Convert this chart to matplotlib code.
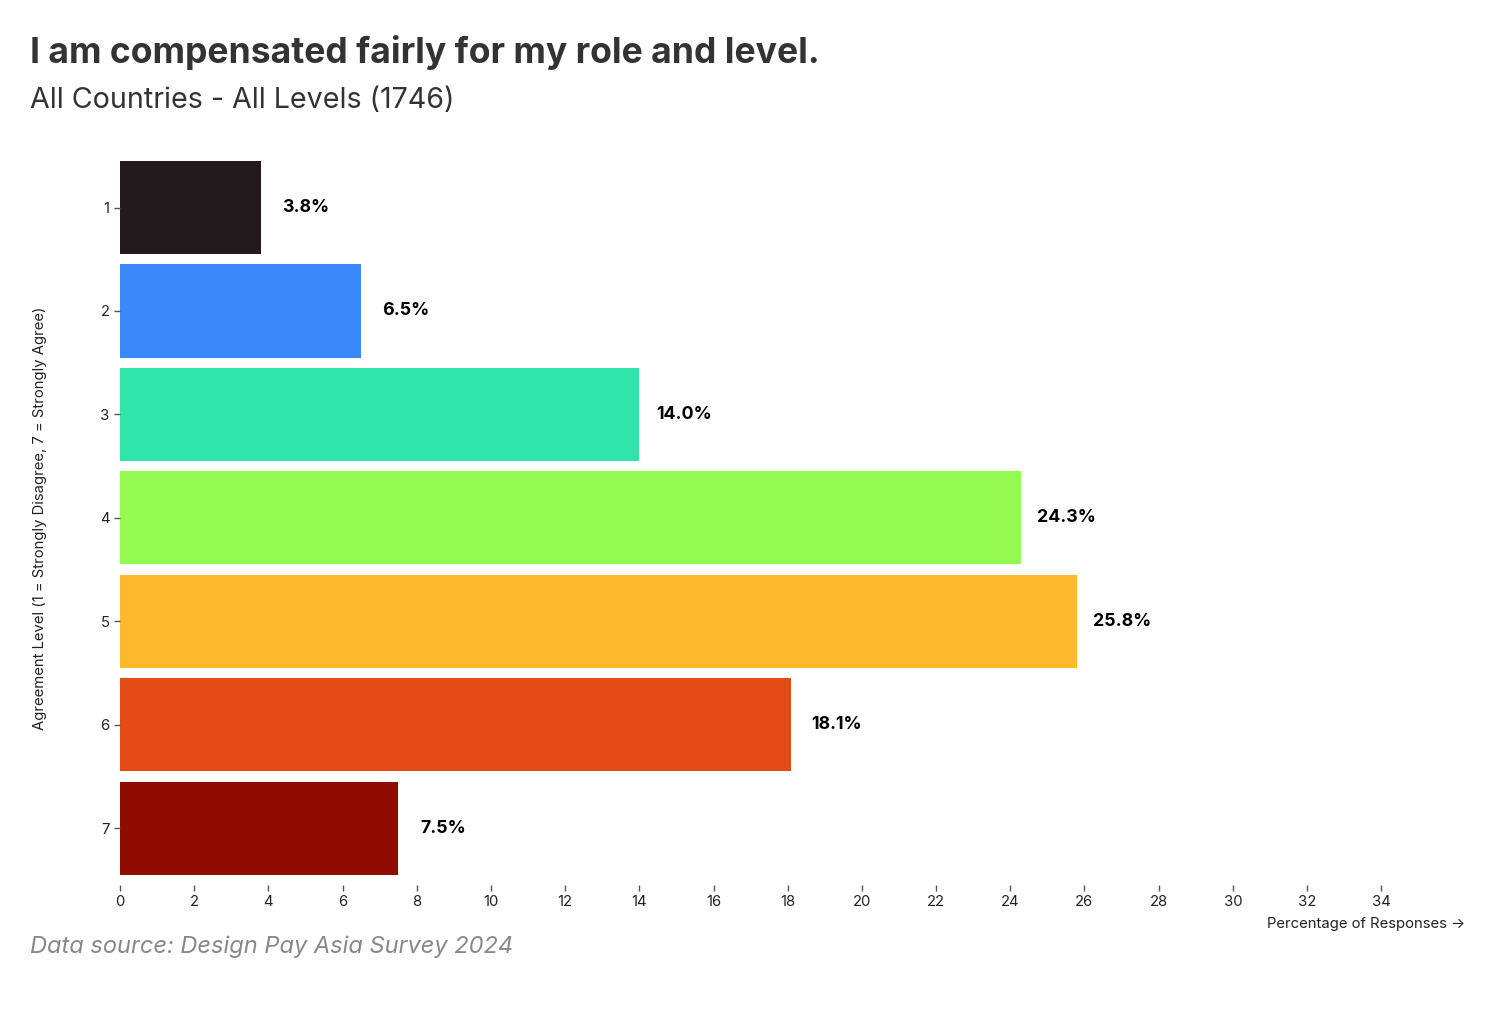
import matplotlib.pyplot as plt

plt.rcParams['font.family'] = ['Inter', 'DejaVu Sans']

# Data
levels = ['1', '2', '3', '4', '5', '6', '7']
percent = [3.8, 6.5, 14.0, 24.3, 25.8, 18.1, 7.5]
colors = ['#231a1e', '#3b88fa', '#30e5aa', '#95fb51', '#fdb92a', '#e44a13', '#900c00']

fig = plt.figure(figsize=(15, 10.22), dpi=100)
ax = fig.add_axes([0.08, 0.134, 0.8967, 0.7186])

pos = list(range(len(levels)))
ax.barh(pos, percent, height=0.9, color=colors)
for p, v in zip(pos, percent):
    ax.annotate(f'{v:.1f}%', (v, p), xytext=(32.4, 0), textcoords='offset points',
                va='center', ha='center', fontsize=12.8, fontweight='bold', color='black')

ax.set_ylim(6.55, -0.55)
ax.set_xlim(0, 36.26)
ax.set_yticks(pos)
ax.set_yticklabels(levels)
ax.set_xticks(range(0, 35, 2))

for s in ax.spines.values():
    s.set_visible(False)
ax.tick_params(axis='both', length=4.5, width=1, color='#555555', labelsize=10.7,
               labelcolor='#222222', pad=3)

ax.set_ylabel('Agreement Level (1 = Strongly Disagree, 7 = Strongly Agree)', fontsize=10.7,
              color='#222222', labelpad=38)
fig.text(1465 / 1500, 1 - 924 / 1022, 'Percentage of Responses \u2192', ha='right', va='center',
         fontsize=10.7, color='#222222')

fig.text(30 / 1500, 1 - 53 / 1022, 'I am compensated fairly for my role and level.',
         fontsize=25.6, fontweight='bold', color='#333333', va='center', ha='left')
fig.text(30 / 1500, 1 - 100 / 1022, 'All Countries - All Levels (1746)',
         fontsize=20.6, color='#333333', va='center', ha='left')
fig.text(30 / 1500, 1 - 947 / 1022, 'Data source: Design Pay Asia Survey 2024',
         fontsize=17, style='italic', color='#888888', va='center', ha='left')

fig.savefig('out.png', dpi=100)
